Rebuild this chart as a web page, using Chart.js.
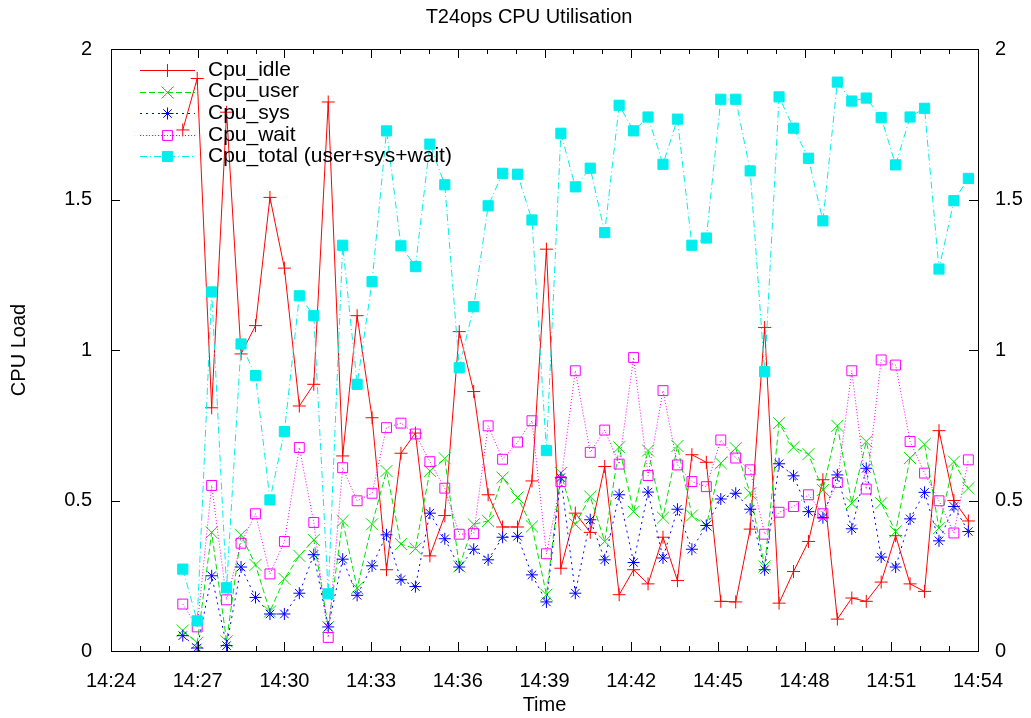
<!DOCTYPE html>
<html>
<head>
<meta charset="utf-8">
<script src="https://cdn.jsdelivr.net/npm/chart.js@4/dist/chart.umd.min.js"></script>
<style>
  body { margin: 0; background: #fff; }
  #wrap { width: 1031px; height: 718px; }
</style>
</head>
<body>
<div id="wrap"><canvas id="cpuChart" width="1031" height="718"></canvas></div>
<script>
// sample times (hh:mm:ss)
const times = [
  '14:26:29','14:26:59','14:27:29','14:28:00','14:28:30','14:29:00','14:29:30','14:30:00','14:30:31','14:31:01',
  '14:31:31','14:32:01','14:32:31','14:33:02','14:33:32','14:34:02','14:34:32','14:35:02','14:35:33','14:36:03',
  '14:36:33','14:37:03','14:37:33','14:38:04','14:38:34','14:39:04','14:39:34','14:40:04','14:40:35','14:41:05',
  '14:41:35','14:42:05','14:42:35','14:43:06','14:43:36','14:44:06','14:44:36','14:45:06','14:45:37','14:46:07',
  '14:46:37','14:47:07','14:47:37','14:48:08','14:48:38','14:49:08','14:49:38','14:50:08','14:50:39','14:51:09',
  '14:51:39','14:52:09','14:52:39','14:53:10','14:53:40'
];

const cpuIdle = [1.731,1.902,0.808,1.79,0.987,1.081,1.507,1.272,0.814,0.886,
  1.824,0.648,1.114,0.775,0.27,0.657,0.724,0.316,0.45,1.061,
  0.862,0.519,0.412,0.412,0.565,1.335,0.275,0.458,0.394,0.613,
  0.187,0.27,0.223,0.378,0.234,0.652,0.627,0.165,0.163,0.405,
  1.075,0.159,0.264,0.364,0.569,0.106,0.176,0.165,0.229,0.383,
  0.223,0.198,0.732,0.5,0.432];
const cpuUser = [0.068,0.027,0.394,0.032,0.386,0.286,0.131,0.24,0.316,0.369,
  0.08,0.432,0.209,0.421,0.598,0.355,0.34,0.598,0.64,0.281,
  0.421,0.432,0.576,0.51,0.414,0.187,0.591,0.421,0.513,0.364,
  0.677,0.463,0.666,0.443,0.681,0.45,0.417,0.624,0.674,0.524,
  0.281,0.757,0.677,0.654,0.535,0.748,0.491,0.696,0.491,0.397,
  0.641,0.687,0.408,0.629,0.541];
const cpuSys = [0.051,0.01,0.25,0.018,0.279,0.178,0.123,0.123,0.192,0.32,
  0.08,0.305,0.185,0.283,0.386,0.237,0.214,0.458,0.373,0.279,
  0.338,0.303,0.378,0.381,0.253,0.163,0.576,0.192,0.436,0.303,
  0.519,0.294,0.528,0.309,0.471,0.338,0.417,0.505,0.524,0.471,
  0.27,0.622,0.582,0.463,0.443,0.585,0.406,0.607,0.312,0.279,
  0.439,0.527,0.366,0.48,0.397];
const cpuWait = [0.156,0.08,0.55,0.17,0.358,0.456,0.256,0.364,0.676,0.427,
  0.045,0.609,0.499,0.524,0.742,0.757,0.721,0.629,0.541,0.388,
  0.39,0.748,0.637,0.694,0.765,0.323,0.563,0.931,0.66,0.734,
  0.621,0.975,0.583,0.865,0.618,0.563,0.546,0.701,0.641,0.602,
  0.388,0.461,0.48,0.519,0.456,0.56,0.931,0.538,0.967,0.95,
  0.696,0.591,0.499,0.392,0.635];
const cpuTotal = [0.272,0.10,1.193,0.21,1.02,0.915,0.502,0.729,1.18,1.114,
  0.19,1.348,0.886,1.227,1.728,1.346,1.277,1.684,1.549,0.941,
  1.144,1.479,1.587,1.584,1.432,0.666,1.72,1.542,1.604,1.39,
  1.813,1.728,1.774,1.617,1.767,1.348,1.372,1.833,1.833,1.595,
  0.928,1.841,1.737,1.637,1.429,1.89,1.827,1.837,1.772,1.615,
  1.774,1.803,1.269,1.496,1.57];

const xTickLabels = ['14:24','14:27','14:30','14:33','14:36','14:39','14:42','14:45','14:48','14:51','14:54'];
const yTickValues = [0, 0.5, 1, 1.5, 2];

const FONT = '"Liberation Sans", Arial, sans-serif';

// seconds after 14:24:00
function secs(t) {
  const p = t.split(':').map(Number);
  return (p[0] - 14) * 3600 + (p[1] - 24) * 60 + p[2];
}
function pts(vals) {
  return vals.map((v, i) => ({x: secs(times[i]), y: v}));
}

const series = [
  {label: 'Cpu_idle', data: pts(cpuIdle), borderColor: '#ff0000', borderDash: [],
   pointStyle: 'cross', pointRadius: 6.5, pointBackgroundColor: 'transparent', order: 5},
  {label: 'Cpu_user', data: pts(cpuUser), borderColor: '#00e000', borderDash: [6, 3],
   pointStyle: 'crossRot', pointRadius: 8.5, pointBackgroundColor: 'transparent', order: 4},
  {label: 'Cpu_sys', data: pts(cpuSys), borderColor: '#0000ff', borderDash: [2, 4],
   pointStyle: 'star', pointRadius: 6, pointBackgroundColor: 'transparent', order: 3},
  {label: 'Cpu_wait', data: pts(cpuWait), borderColor: '#ff00ff', borderDash: [1, 2],
   pointStyle: 'rect', pointRadius: 7, pointBackgroundColor: 'transparent', order: 2},
  {label: 'Cpu_total (user+sys+wait)', data: pts(cpuTotal), borderColor: '#00eeee', borderDash: [7, 3, 1, 3],
   pointStyle: 'rect', pointRadius: 7.2, pointBackgroundColor: '#00eeee', order: 1}
];
series.forEach(s => {
  s.borderWidth = 1;
  s.pointBorderColor = s.borderColor;
  s.pointBorderWidth = 1;
  s.pointHoverRadius = s.pointRadius;
  s.tension = 0;
  s.fill = false;
});

// gnuplot-like frame, inward ticks, key and title
const gnuFrame = {
  id: 'gnuFrame',
  afterDraw(chart) {
    const {ctx, chartArea: a, scales: {x, y}} = chart;
    ctx.save();
    ctx.strokeStyle = '#000';
    ctx.lineWidth = 1;
    ctx.setLineDash([]);
    ctx.beginPath();
    for (let m = 0; m <= 30; m++) {
      const px = Math.round(x.getPixelForValue(m * 60)) + 0.5;
      const len = m % 3 === 0 ? 9 : 5;
      ctx.moveTo(px, a.bottom); ctx.lineTo(px, a.bottom - len);
      ctx.moveTo(px, a.top); ctx.lineTo(px, a.top + len);
    }
    yTickValues.forEach(v => {
      const py = Math.round(y.getPixelForValue(v)) + 0.5;
      ctx.moveTo(a.left, py); ctx.lineTo(a.left + 9, py);
      ctx.moveTo(a.right, py); ctx.lineTo(a.right - 9, py);
    });
    ctx.stroke();
    ctx.strokeRect(Math.round(a.left) + 0.5, Math.round(a.top) + 0.5,
      Math.round(a.right - a.left), Math.round(a.bottom - a.top));

    // title
    ctx.fillStyle = '#000';
    ctx.font = '20px ' + FONT;
    ctx.textAlign = 'center';
    ctx.textBaseline = 'middle';
    ctx.fillText('T24ops CPU Utilisation', 529, 17);

    // key
    ctx.font = '21px ' + FONT;
    ctx.textAlign = 'left';
    chart.data.datasets.forEach((ds, i) => {
      const ky = 70 + i * 21.6;
      ctx.strokeStyle = ds.borderColor;
      ctx.setLineDash(ds.borderDash);
      ctx.beginPath();
      ctx.moveTo(140, Math.round(ky) + 0.5);
      ctx.lineTo(195, Math.round(ky) + 0.5);
      ctx.stroke();
      ctx.setLineDash([]);
      ctx.fillStyle = ds.pointBackgroundColor;
      Chart.helpers.drawPoint(ctx, {pointStyle: ds.pointStyle, radius: ds.pointRadius, borderWidth: 1, rotation: 0}, 167.5, Math.round(ky) + 0.5);
      ctx.fillStyle = '#000';
      ctx.fillText(ds.label, 208, ky);
    });
    ctx.restore();
  }
};

new Chart(document.getElementById('cpuChart'), {
  type: 'line',
  data: {datasets: series},
  options: {
    responsive: false,
    animation: false,
    events: [],
    layout: {padding: {top: 49, left: 0, right: 0, bottom: 0}},
    plugins: {legend: {display: false}, tooltip: {enabled: false}, title: {display: false}},
    scales: {
      x: {
        type: 'linear', min: 0, max: 1800,
        afterBuildTicks: s => { s.ticks = xTickLabels.map((t, i) => ({value: i * 180})); },
        afterFit: s => { s.height = 67; },
        grid: {display: false}, border: {display: false},
        ticks: {color: '#000', padding: 10, maxRotation: 0, autoSkip: false,
          font: {family: FONT, size: 20},
          callback: (v, i) => xTickLabels[i]},
        title: {display: true, text: 'Time', color: '#000', padding: {bottom: 1, top: 0},
          font: {family: FONT, size: 20}}
      },
      y: {
        position: 'left', min: 0, max: 2,
        afterBuildTicks: s => { s.ticks = yTickValues.map(v => ({value: v})); },
        afterFit: s => { s.width = 111; },
        grid: {display: false}, border: {display: false},
        ticks: {color: '#000', padding: 11, font: {family: FONT, size: 20},
          callback: v => String(v)},
        title: {display: true, text: 'CPU Load', color: '#000', padding: {top: 7, bottom: 0},
          font: {family: FONT, size: 20}}
      },
      y2: {
        position: 'right', min: 0, max: 2,
        afterBuildTicks: s => { s.ticks = yTickValues.map(v => ({value: v})); },
        afterFit: s => { s.width = 53; },
        grid: {display: false}, border: {display: false},
        ticks: {color: '#000', padding: 9, font: {family: FONT, size: 20},
          callback: v => String(v)}
      }
    }
  },
  plugins: [gnuFrame]
});
</script>
</body>
</html>
